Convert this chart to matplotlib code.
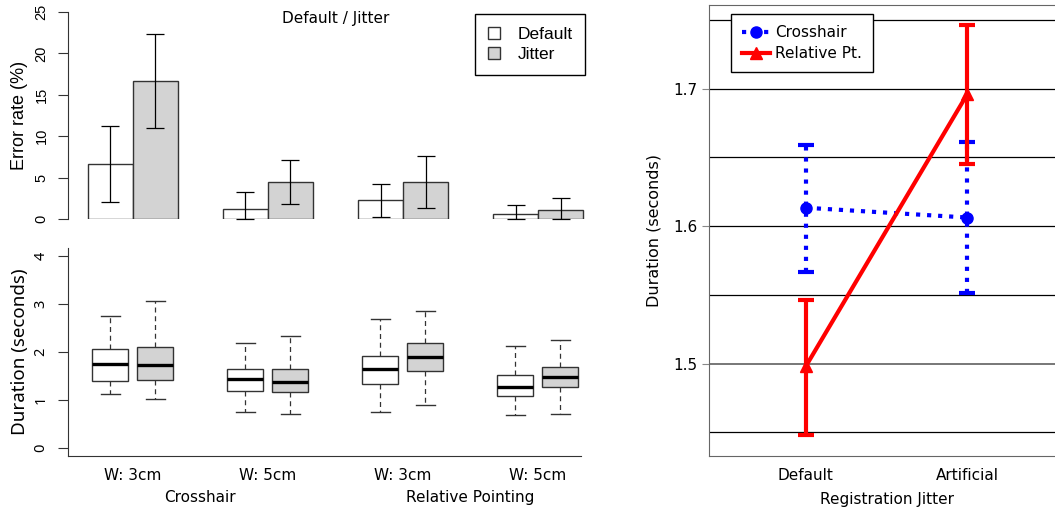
import numpy as np
import matplotlib
matplotlib.use("Agg")
import matplotlib.pyplot as plt
from matplotlib.patches import Patch
from matplotlib.lines import Line2D
from matplotlib.transforms import blended_transform_factory

plt.rcParams["font.family"] = "DejaVu Sans"

# ---- data ----
groups = ["Crosshair", "Relative Pointing"]
widths = ["W: 3cm", "W: 5cm", "W: 3cm", "W: 5cm"]
conditions = ["Default", "Jitter"]

err_default = [6.7, 1.15, 2.25, 0.55]
err_default_lo = [2.1, 0.0, 0.3, 0.0]
err_default_hi = [11.25, 3.3, 4.2, 1.7]
err_jitter = [16.7, 4.45, 4.45, 1.1]
err_jitter_lo = [10.95, 1.8, 1.3, 0.0]
err_jitter_hi = [22.4, 7.15, 7.6, 2.55]

# boxplot stats: whisker low, q1, median, q3, whisker high
dur_default = [
    [1.12, 1.40, 1.76, 2.06, 2.74],
    [0.75, 1.20, 1.44, 1.64, 2.18],
    [0.75, 1.33, 1.65, 1.92, 2.69],
    [0.69, 1.09, 1.28, 1.52, 2.12],
]
dur_jitter = [
    [1.03, 1.42, 1.73, 2.10, 3.05],
    [0.72, 1.17, 1.38, 1.64, 2.34],
    [0.90, 1.60, 1.90, 2.19, 2.85],
    [0.72, 1.27, 1.49, 1.69, 2.24],
]

jitter_levels = ["Default", "Artificial"]
cross_mean = [1.6134, 1.6063]
cross_lo = [1.567, 1.5516]
cross_hi = [1.659, 1.661]
rel_mean = [1.498, 1.696]
rel_lo = [1.4477, 1.645]
rel_hi = [1.5465, 1.7465]

W, H = 1055, 513
fig = plt.figure(figsize=(W / 100, H / 100), dpi=100)


def px_axes(x0, y0, x1, y1):
    return fig.add_axes([x0 / W, 1 - y1 / H, (x1 - x0) / W, (y1 - y0) / H])


GREY = "#d3d3d3"
EDGE = "#333333"

# ---- top-left: error rates ----
ax1 = px_axes(68, 12, 603, 219)
xd = np.arange(len(widths)) * 3 + 1.5
xj = xd + 1
ax1.bar(xd, err_default, width=1, color="white", edgecolor=EDGE, linewidth=1.0)
ax1.bar(xj, err_jitter, width=1, color=GREY, edgecolor=EDGE, linewidth=1.0)
for xs, m, lo, hi in [(xd, err_default, err_default_lo, err_default_hi),
                      (xj, err_jitter, err_jitter_lo, err_jitter_hi)]:
    m = np.array(m)
    ax1.errorbar(xs, m, yerr=[m - np.array(lo), np.array(hi) - m], fmt="none",
                 ecolor="black", elinewidth=0.9, capsize=6.8, capthick=0.9,
                 clip_on=False)
ax1.set_xlim(0.56, 12.44)
ax1.set_ylim(0, 25)
ax1.set_yticks([0, 5, 10, 15, 20, 25])
ax1.tick_params(axis="y", labelsize=10.5, length=7, pad=7, color=EDGE, labelrotation=90)
for lab in ax1.get_yticklabels():
    lab.set_va("center")
    lab.set_family("Liberation Sans")
ax1.set_xticks([])
for s in ["top", "right", "bottom"]:
    ax1.spines[s].set_visible(False)
ax1.spines["left"].set_color(EDGE)
ax1.set_ylabel("Error rate (%)", fontsize=13, family="Liberation Sans", labelpad=5)
fig.text(336 / W, 1 - 18 / H, "Default / Jitter", ha="center", va="center", fontsize=11)
leg1 = fig.legend(
    handles=[Patch(facecolor="white", edgecolor=EDGE, label="Default"),
             Patch(facecolor=GREY, edgecolor=EDGE, label="Jitter")],
    loc="upper right", bbox_to_anchor=(585 / W, 1 - 14 / H), borderaxespad=0,
    fancybox=False, edgecolor="black", framealpha=1, handlelength=0.7,
    handleheight=0.7, borderpad=0.72, labelspacing=0.3, handletextpad=1.0,
    prop={"family": "Liberation Sans", "size": 12.5})
leg1.get_frame().set_linewidth(1.0)

# ---- bottom-left: durations ----
ax2 = px_axes(68, 248, 581, 456)


def box_stats(rows):
    return [dict(whislo=r[0], q1=r[1], med=r[2], q3=r[3], whishi=r[4], fliers=[])
            for r in rows]


for rows, xs, fc in [(dur_default, xd, "white"), (dur_jitter, xj, GREY)]:
    ax2.bxp(box_stats(rows), positions=xs, widths=0.8, patch_artist=True,
            showfliers=False, capwidths=0.42,
            boxprops=dict(facecolor=fc, edgecolor=EDGE, linewidth=1.0),
            medianprops=dict(color="black", linewidth=2.4),
            whiskerprops=dict(color=EDGE, linewidth=0.9, linestyle=(0, (4, 3))),
            capprops=dict(color=EDGE, linewidth=1.0))
ax2.set_xlim(0.56, 11.96)
ax2.set_ylim(-0.16, 4.16)
ax2.set_yticks([0, 1, 2, 3, 4])
ax2.tick_params(axis="y", labelsize=10.5, length=7, pad=7, color=EDGE, labelrotation=90)
for lab in ax2.get_yticklabels():
    lab.set_va("center")
    lab.set_family("Noto Sans")
centers = (xd + xj) / 2
ax2.set_xticks(centers)
ax2.set_xticklabels(widths, fontsize=11)
ax2.tick_params(axis="x", length=0, pad=9)
for s in ["top", "right"]:
    ax2.spines[s].set_visible(False)
ax2.spines["left"].set_color(EDGE)
ax2.spines["bottom"].set_color(EDGE)
ax2.set_ylabel("Duration (seconds)", fontsize=13.5, family="Noto Sans", labelpad=3)
tr = blended_transform_factory(ax2.transData, ax2.transAxes)
for i, g in enumerate(groups):
    gx = (centers[2 * i] + centers[2 * i + 1]) / 2
    ax2.text(gx, -0.2, g, transform=tr, ha="center", va="center", fontsize=11)

# ---- right: mean durations ----
ax3 = px_axes(709, 5, 1064, 456)
xr = np.arange(1, len(jitter_levels) + 1)
for yv in np.arange(1.45, 1.751, 0.05):
    if abs(yv - 1.5) < 1e-6:
        ax3.axhline(yv, color="#777777", linewidth=1.4, zorder=0)
    else:
        ax3.axhline(yv, color="black", linewidth=0.9, zorder=0)
cm = np.array(cross_mean)
ax3.errorbar(xr, cm, yerr=[cm - np.array(cross_lo), np.array(cross_hi) - cm],
             color="blue", linestyle=":", linewidth=3, marker="o", markersize=8,
             capsize=6, capthick=3, elinewidth=3, zorder=3)
rm = np.array(rel_mean)
ax3.errorbar(xr, rm, yerr=[rm - np.array(rel_lo), np.array(rel_hi) - rm],
             color="red", linestyle="-", linewidth=3, marker="^", markersize=9,
             capsize=6, capthick=3, elinewidth=3, zorder=4)
# dotted blue error bars
for coll in ax3.collections:
    if np.allclose(coll.get_colors()[0][:3], (0, 0, 1)):
        coll.set_linestyle(":")
ax3.set_xlim(0.4, 2.6)
ax3.set_ylim(1.4327, 1.761)
ax3.set_yticks([1.5, 1.6, 1.7])
ax3.set_yticklabels(["1.5", "1.6", "1.7"])
ax3.tick_params(axis="y", labelsize=11, length=5, color="#888888")
ax3.set_xticks(xr)
ax3.set_xticklabels(jitter_levels, fontsize=11)
ax3.tick_params(axis="x", length=0, pad=9)
ax3.spines["right"].set_visible(False)
for s in ["left", "top", "bottom"]:
    ax3.spines[s].set_color("#666666")
ax3.set_ylabel("Duration (seconds)", fontsize=11.5, labelpad=8)
ax3.set_xlabel("Registration Jitter", fontsize=11, labelpad=6)
leg3 = ax3.legend(
    handles=[Line2D([], [], color="blue", linestyle=":", linewidth=3, marker="o", markersize=8),
             Line2D([], [], color="red", linestyle="-", linewidth=3, marker="^", markersize=9)],
    labels=["Crosshair", "Relative Pt."],
    loc="upper left", bbox_to_anchor=(731 / W, 1 - 14 / H), borderaxespad=0,
    bbox_transform=fig.transFigure, fontsize=11, fancybox=False, edgecolor="black",
    framealpha=1, handlelength=1.8, borderpad=0.72, labelspacing=0.4, handletextpad=0.35)
leg3.get_frame().set_linewidth(1.0)

fig.savefig("out.png", dpi=100)
